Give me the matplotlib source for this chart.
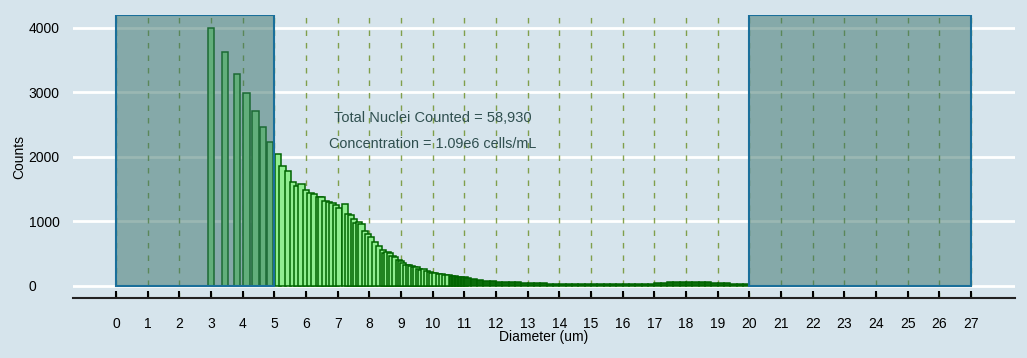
import matplotlib.pyplot as plt
from matplotlib.patches import Rectangle

plt.rcParams['font.family'] = ['Liberation Sans', 'DejaVu Sans']

# bin left edges (um) and counts
diam = [2.90, 3.35, 3.72, 4.02, 4.30, 4.55, 4.76, 5.02, 5.16, 5.33,
        5.49, 5.63, 5.76, 5.90, 6.04, 6.16, 6.32, 6.39, 6.51, 6.62,
        6.73, 6.85, 6.95, 7.13, 7.23, 7.32, 7.41, 7.49, 7.57, 7.65,
        7.77, 7.86, 7.95, 8.08, 8.20, 8.34, 8.39, 8.47, 8.55, 8.63,
        8.71, 8.83, 8.90, 8.97, 9.07, 9.15, 9.23, 9.31, 9.39, 9.47,
        9.55, 9.62, 9.72, 9.81, 9.89, 9.97,
        10.1, 10.2, 10.3, 10.4, 10.5, 10.6, 10.7, 10.8, 10.9, 11.0,
        11.2, 11.4, 11.6, 11.8, 12.0, 12.2, 12.4, 12.6, 12.8, 13.0,
        13.2, 13.4, 13.6, 13.8, 14.0, 14.2, 14.4, 14.6, 14.8, 15.0,
        15.2, 15.4, 15.6, 15.8, 16.0, 16.2, 16.4, 16.6, 16.8, 17.0,
        17.2, 17.4, 17.6, 17.8, 18.0, 18.2, 18.4, 18.6, 18.8, 19.0,
        19.2, 19.4, 19.6, 19.8]
counts = [3995, 3623, 3292, 2987, 2713, 2460, 2238, 2046, 1860, 1778,
          1617, 1550, 1576, 1488, 1437, 1432, 1380, 1375, 1318, 1300,
          1292, 1256, 1214, 1266, 1111, 1106, 1039, 981, 990, 961,
          848, 800, 755, 682, 625, 558, 507, 520, 517, 470,
          445, 403, 390, 352, 326, 320, 305, 295, 290, 270,
          253, 259, 230, 212, 205, 197,
          190, 185, 175, 168, 160, 150, 145, 140, 132, 125,
          110, 95, 85, 75, 68, 64, 62, 58, 52, 47,
          44, 40, 38, 36, 35, 34, 34, 33, 33, 33,
          33, 33, 32, 32, 32, 32, 33, 34, 36, 40,
          50, 58, 64, 67, 68, 66, 62, 56, 50, 45,
          40, 38, 36, 34]

gate_low = (0, 5)
gate_high = (20, 27)
total_text = 'Total Nuclei Counted = 58,930'
conc_text = 'Concentration = 1.09e6 cells/mL'

bg = '#d6e4ec'
fig = plt.figure(figsize=(10.27, 3.58), dpi=100, facecolor=bg)
ax = fig.add_axes([0.0711, 0.1676, 0.9172, 0.7904], facecolor=bg)

ymax = 4200
ax.set_xlim(-1.36, 28.39)
ax.set_ylim(-186, ymax)

for y in range(0, 5000, 1000):
    ax.axhline(y, color='white', lw=2, zorder=0)
for x in range(0, 28):
    ax.axvline(x, color='olivedrab', lw=1, ls=(0, (4, 5)), alpha=0.8, zorder=1)

# the tail is so dense in the original that the edges fill it in
faces = ['#90ee90' if d < 10.5 else '#0a6e0a' for d in diam]
ax.bar(diam, counts, width=0.2, align='edge', color=faces,
       edgecolor='darkgreen', linewidth=1.1, zorder=2)

for lo, hi in (gate_low, gate_high):
    ax.add_patch(Rectangle((lo, 0), hi - lo, ymax, facecolor='#367068',
                           alpha=0.5, edgecolor='none', zorder=3))
    ax.add_patch(Rectangle((lo, 0), hi - lo, ymax, facecolor='none',
                           edgecolor='#1a6f9a', lw=1.5, zorder=3))

ax.text(10, 2600, total_text, ha='center', va='center', fontsize=10.5,
        color='#2f4f4f', zorder=4)
ax.text(10, 2200, conc_text, ha='center', va='center', fontsize=10.4,
        color='#2f4f4f', zorder=4)

for s in ['top', 'right', 'left']:
    ax.spines[s].set_visible(False)
ax.spines['bottom'].set_position(('data', -186))
ax.spines['bottom'].set_color('#222222')
ax.spines['bottom'].set_linewidth(1.5)

ax.set_xticks(range(0, 28))
ax.set_yticks(range(0, 5000, 1000))
ax.tick_params(axis='x', direction='in', length=5, width=1.5, pad=14,
               labelsize=10, colors='black')
ax.tick_params(axis='y', length=0, pad=32, labelsize=10)
for lab in ax.get_yticklabels():
    lab.set_horizontalalignment('left')
ax.set_xlabel('Diameter (um)', fontsize=10, labelpad=-1)
ax.set_ylabel('Counts', fontsize=10, labelpad=2)

fig.savefig('out.png', dpi=100, facecolor=bg)
